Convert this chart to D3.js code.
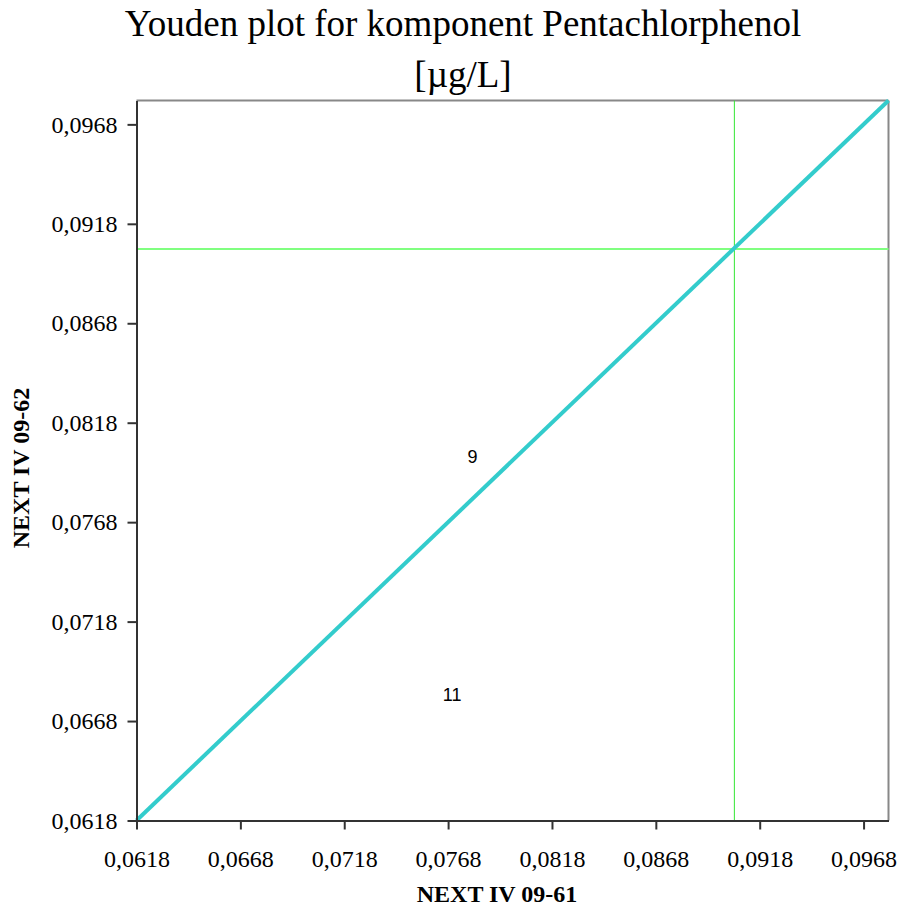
<!DOCTYPE html>
<html>
<head>
<meta charset="utf-8">
<script src="https://cdn.jsdelivr.net/npm/d3@7"></script>
<style>
  body { margin: 0; background: #fff; }
  text { font-family: "Liberation Serif", "Times New Roman", serif; }
</style>
</head>
<body>
<script>
// chart data
var labels = ["9", "11"];
var xValues = [0.07797, 0.07699];
var yValues = [0.08008, 0.06812];
var tickValues = [0.0618, 0.0668, 0.0718, 0.0768, 0.0818, 0.0868, 0.0918, 0.0968];
var axisRange = [0.0618, 0.0980];
var meanX = 0.09058;
var meanY = 0.09053;

var margin = {top: 100.5, right: 17.5, bottom: 91.5, left: 136.5},
    width = 906 - margin.left - margin.right,
    height = 912 - margin.top - margin.bottom;

var svg = d3.select("body").append("svg")
    .attr("width", 906)
    .attr("height", 912);

var g = svg.append("g")
    .attr("transform", "translate(" + margin.left + "," + margin.top + ")");

var xscale = d3.scaleLinear().domain(axisRange).range([0, width]);
var yscale = d3.scaleLinear().domain(axisRange).range([height, 0]);

var fmt = function(d) { return d3.format(".4f")(d).replace(".", ","); };

// frame top/right
g.append("line").attr("x1", 0).attr("x2", width).attr("y1", 0).attr("y2", 0)
    .attr("stroke", "#888").attr("stroke-width", 2);
g.append("line").attr("x1", width).attr("x2", width).attr("y1", 0).attr("y2", height)
    .attr("stroke", "#888").attr("stroke-width", 2);

// mean lines
g.append("line")
    .attr("x1", 0).attr("x2", width)
    .attr("y1", yscale(meanY)).attr("y2", yscale(meanY))
    .attr("stroke", "#80ff80").attr("stroke-width", 2);
g.append("line")
    .attr("x1", xscale(meanX)).attr("x2", xscale(meanX))
    .attr("y1", 0).attr("y2", height)
    .attr("stroke", "#33e633").attr("stroke-width", 1);

// diagonal
g.append("line")
    .attr("x1", xscale(axisRange[0])).attr("y1", yscale(axisRange[0]))
    .attr("x2", xscale(axisRange[1])).attr("y2", yscale(axisRange[1]))
    .attr("stroke", "#33cccc").attr("stroke-width", 4);

// axes
var xAxis = d3.axisBottom(xscale).tickValues(tickValues).tickFormat(fmt)
    .tickSize(9).tickSizeOuter(0).tickPadding(20);
var gx = g.append("g")
    .attr("transform", "translate(0," + height + ")")
    .call(xAxis);

var yAxis = d3.axisLeft(yscale).tickValues(tickValues).tickFormat(fmt)
    .tickSize(9).tickSizeOuter(0).tickPadding(10);
var gy = g.append("g").call(yAxis);

[gx, gy].forEach(function(a) {
    a.attr("font-family", "'Liberation Serif', 'Times New Roman', serif")
        .attr("font-size", 24);
    a.select(".domain").attr("stroke", "#333").attr("stroke-width", 2);
    a.selectAll(".tick line").attr("stroke", "#333").attr("stroke-width", 2);
    a.selectAll(".tick text")
        .attr("fill", "#000")
        .style("font-family", "'Liberation Serif', 'Times New Roman', serif")
        .style("font-size", "24px");
});
gx.selectAll(".tick text").attr("dy", "0.71em");

// point labels
g.selectAll(".lbl")
    .data(labels)
    .enter().append("text")
    .attr("class", "lbl")
    .attr("x", function(d, i) { return xscale(xValues[i]); })
    .attr("y", function(d, i) { return yscale(yValues[i]); })
    .attr("text-anchor", "middle")
    .attr("dy", "0.35em")
    .style("font-family", "'Liberation Sans', Arial, sans-serif")
    .style("font-size", "18px")
    .text(function(d) { return d; });

// title
svg.append("text")
    .attr("x", 463).attr("y", 36)
    .attr("text-anchor", "middle")
    .style("font-size", "37px")
    .text("Youden plot for komponent Pentachlorphenol");
svg.append("text")
    .attr("x", 463).attr("y", 87)
    .attr("text-anchor", "middle")
    .style("font-size", "37px")
    .text("[µg/L]");

// axis titles
svg.append("text")
    .attr("x", 497).attr("y", 902)
    .attr("text-anchor", "middle")
    .style("font-size", "24px")
    .style("font-weight", "bold")
    .text("NEXT IV 09-61");
svg.append("text")
    .attr("transform", "translate(29,468) rotate(-90)")
    .attr("text-anchor", "middle")
    .style("font-size", "24px")
    .style("font-weight", "bold")
    .text("NEXT IV 09-62");
</script>
</body>
</html>
